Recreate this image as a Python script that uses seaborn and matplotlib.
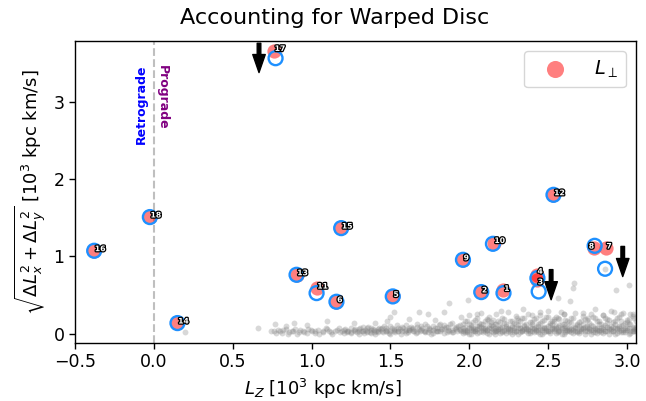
import matplotlib
matplotlib.use("Agg")
import matplotlib.pyplot as plt
import matplotlib.patheffects as pe
import seaborn as sns
import pandas as pd

# Stars: id, Lz, perpendicular angular momentum (pink) and raw in-plane value (blue ring)
star_id = [1, 2, 3, 4, 5, 6, 7, 8, 9, 10, 11, 12, 13, 14, 15, 16, 17, 18]
lz_perp = [2.217, 2.076, 2.43, 2.428, 1.515, 1.158, 2.865, 2.793, 1.96, 2.155,
           1.032, 2.534, 0.905, 0.15, 1.188, -0.378, 0.762, -0.025]
l_perp = [0.56, 0.54, 0.69, 0.76, 0.483, 0.414, 1.108, 1.108, 0.957, 1.18,
          0.59, 1.798, 0.763, 0.138, 1.367, 1.074, 3.665, 1.51]
lz_xy = [2.217, 2.076, 2.44, 2.432, 1.515, 1.158, 2.861, 2.795, 1.96, 2.15,
         1.032, 2.534, 0.905, 0.15, 1.188, -0.378, 0.772, -0.025]
l_xy = [0.526, 0.539, 0.547, 0.72, 0.483, 0.414, 0.841, 1.138, 0.957, 1.164,
        0.526, 1.798, 0.763, 0.138, 1.367, 1.074, 3.566, 1.51]
# label nudges (points) for crowded stars
label_dx = [0.5, 0.5, 0.5, 0.5, 0.5, 0.5, 0.5, -4.0, 0.5, 0.5,
            0.5, 0.5, 0.5, 0.5, 0.5, 0.5, 0.5, 0.5]
label_dy = [1.5, 1.5, -1.0, 2.8, 1.5, 1.5, 1.5, 1.5, 1.5, 1.5,
            1.5, 1.5, 1.5, 1.5, 1.5, 1.5, 1.5, 1.5]

# Downward arrows: x, tail y, tip y
arrow_x = [0.667, 2.519, 2.973]
arrow_top = [3.76, 0.83, 1.13]
arrow_tip = [3.38, 0.44, 0.74]

# Disc field population
field_sparse_x = [0.20, 0.66, 0.76, 0.79, 0.81, 0.84, 0.86, 0.88, 0.91, 0.93, 0.95, 0.98,
                  1.00, 1.02, 1.04, 1.07, 1.09, 1.11, 1.13, 1.16, 1.18, 1.21, 1.23, 1.25,
                  1.27, 1.29, 0.77, 0.89, 1.10, 1.27, 0.84, 0.97,
                  0.745, 0.772, 0.797, 0.822, 0.848, 0.873, 0.897, 0.922, 0.948, 0.972,
                  0.998, 1.022, 1.047, 1.073, 1.097, 1.122, 1.148, 1.172, 1.196]
field_sparse_y = [0.02, 0.07, 0.03, 0.05, 0.01, 0.06, 0.02, 0.04, 0.00, 0.05, 0.02, 0.06,
                  0.03, 0.01, 0.05, 0.02, 0.07, 0.03, 0.00, 0.05, 0.02, 0.06, 0.03, 0.01,
                  0.05, 0.02, 0.12, 0.14, 0.16, 0.14, 0.10, 0.11,
                  0.04, 0.01, 0.03, 0.05, 0.00, 0.03, 0.06, 0.02, 0.04, 0.01,
                  0.05, 0.03, 0.00, 0.04, 0.06, 0.02, 0.03, 0.07, 0.04]
field_mid_x = [1.30, 1.31, 1.33, 1.34, 1.36, 1.37, 1.39, 1.40, 1.42, 1.43, 1.45, 1.46,
               1.48, 1.49, 1.51, 1.52, 1.54, 1.55, 1.57, 1.58, 1.60, 1.61, 1.63, 1.64,
               1.66, 1.67, 1.69, 1.70, 1.72, 1.73, 1.75, 1.76, 1.78, 1.79, 1.81, 1.82,
               1.84, 1.85, 1.87, 1.88, 1.90, 1.91, 1.93, 1.94,
               1.32, 1.35, 1.38, 1.41, 1.44, 1.47, 1.50, 1.53, 1.56, 1.59, 1.62, 1.65,
               1.68, 1.71, 1.74, 1.77, 1.80, 1.83, 1.86, 1.89, 1.92, 1.95]
field_mid_y = [0.03, 0.07, 0.01, 0.05, 0.09, 0.02, 0.06, 0.00, 0.04, 0.08, 0.02, 0.10,
               0.05, 0.01, 0.07, 0.03, 0.11, 0.04, 0.00, 0.08, 0.05, 0.02, 0.09, 0.06,
               0.01, 0.12, 0.04, 0.07, 0.02, 0.10, 0.05, 0.00, 0.08, 0.03, 0.11, 0.06,
               0.01, 0.09, 0.04, 0.13, 0.02, 0.07, 0.10, 0.05,
               0.04, 0.02, 0.05, 0.03, 0.06, 0.03, 0.04, 0.02, 0.06, 0.03, 0.05, 0.03,
               0.06, 0.04, 0.02, 0.05, 0.03, 0.06, 0.02, 0.05, 0.04, 0.03]
field_mid2_x = [1.205, 1.228, 1.253, 1.276, 1.302, 1.327, 1.351, 1.374, 1.398, 1.424,
                1.449, 1.473, 1.497, 1.522, 1.548, 1.571, 1.596, 1.621, 1.646, 1.669,
                1.694, 1.719, 1.744, 1.768, 1.793, 1.817, 1.842, 1.866, 1.891, 1.916,
                1.941]
field_mid2_y1 = [0.01, 0.04, 0.02, 0.06, 0.00, 0.03, 0.07, 0.01, 0.05, 0.02, 0.08, 0.04,
                 0.00, 0.06, 0.03, 0.09, 0.01, 0.05, 0.07, 0.02, 0.10, 0.04, 0.06, 0.01,
                 0.08, 0.03, 0.11, 0.05, 0.02, 0.09, 0.06]
field_mid2_y2 = [0.05, 0.02, 0.07, 0.03, 0.06, 0.09, 0.04, 0.08, 0.02, 0.06, 0.03, 0.07,
                 0.10, 0.05, 0.08, 0.04, 0.11, 0.07, 0.03, 0.09, 0.05, 0.12, 0.08, 0.10,
                 0.04, 0.13, 0.07, 0.09, 0.14, 0.06, 0.11]
field_dense_x = [1.96, 1.985, 2.01, 2.035, 2.06, 2.085, 2.11, 2.135, 2.16, 2.185, 2.21,
                 2.235, 2.26, 2.285, 2.31, 2.335, 2.36, 2.385, 2.41, 2.435, 2.46, 2.485,
                 2.51, 2.535, 2.56, 2.585, 2.61, 2.635, 2.66, 2.685, 2.71, 2.735, 2.76,
                 2.785, 2.81, 2.835, 2.86, 2.885, 2.91, 2.935, 2.96, 2.985, 3.01, 3.035,
                 3.06, 3.085]
field_dense_y1 = [0.01, 0.04, 0.00, 0.03, 0.02, 0.05, 0.01, 0.03, 0.00, 0.04, 0.02, 0.01,
                  0.05, 0.02, 0.00, 0.03, 0.04, 0.01, 0.02, 0.05, 0.00, 0.03, 0.01, 0.04,
                  0.02, 0.00, 0.05, 0.03, 0.01, 0.02, 0.04, 0.00, 0.03, 0.05, 0.01, 0.02,
                  0.04, 0.00, 0.03, 0.01, 0.05, 0.02, 0.00, 0.04, 0.03, 0.01]
field_dense_y2 = [0.07, 0.05, 0.09, 0.06, 0.10, 0.08, 0.05, 0.11, 0.07, 0.06, 0.09, 0.10,
                  0.06, 0.08, 0.11, 0.05, 0.07, 0.09, 0.06, 0.10, 0.08, 0.05, 0.11, 0.07,
                  0.09, 0.06, 0.10, 0.08, 0.05, 0.11, 0.07, 0.09, 0.06, 0.10, 0.08, 0.05,
                  0.11, 0.07, 0.09, 0.06, 0.10, 0.08, 0.12, 0.07, 0.09, 0.11]
field_dense_y3 = [0.13, 0.16, 0.11, 0.18, 0.14, 0.12, 0.19, 0.15, 0.13, 0.17, 0.20, 0.12,
                  0.16, 0.14, 0.18, 0.21, 0.13, 0.15, 0.19, 0.12, 0.17, 0.22, 0.14, 0.16,
                  0.20, 0.13, 0.18, 0.15, 0.21, 0.12, 0.17, 0.19, 0.14, 0.22, 0.16, 0.13,
                  0.20, 0.18, 0.15, 0.21, 0.17, 0.14, 0.19, 0.23, 0.16, 0.20]
field_dense_y4 = [0.04, 0.02, 0.06, 0.03, 0.07, 0.02, 0.05, 0.08, 0.03, 0.06, 0.04, 0.07,
                  0.02, 0.05, 0.08, 0.03, 0.06, 0.04, 0.07, 0.02, 0.05, 0.08, 0.03, 0.06,
                  0.04, 0.07, 0.02, 0.05, 0.08, 0.03, 0.06, 0.04, 0.07, 0.02, 0.05, 0.08,
                  0.03, 0.06, 0.04, 0.07, 0.02, 0.05, 0.08, 0.03, 0.06, 0.04]
field_dense2_x = [1.972, 1.998, 2.022, 2.047, 2.073, 2.097, 2.122, 2.148, 2.172, 2.197,
                  2.223, 2.247, 2.272, 2.298, 2.322, 2.347, 2.373, 2.397, 2.422, 2.448,
                  2.472, 2.497, 2.523, 2.547, 2.572, 2.598, 2.622, 2.647, 2.673, 2.697,
                  2.722, 2.748, 2.772, 2.797, 2.823, 2.847, 2.872, 2.898, 2.922, 2.947,
                  2.973, 2.997, 3.022, 3.047, 3.072, 3.097]
field_dense2_y1 = [0.02, 0.00, 0.05, 0.01, 0.03, 0.06, 0.00, 0.02, 0.04, 0.01, 0.05, 0.03,
                   0.00, 0.04, 0.02, 0.06, 0.01, 0.03, 0.05, 0.00, 0.02, 0.04, 0.06, 0.01,
                   0.03, 0.00, 0.05, 0.02, 0.04, 0.01, 0.06, 0.03, 0.00, 0.02, 0.05, 0.01,
                   0.04, 0.06, 0.00, 0.03, 0.02, 0.05, 0.01, 0.04, 0.00, 0.06]
field_dense2_y2 = [0.09, 0.12, 0.07, 0.10, 0.13, 0.08, 0.11, 0.06, 0.12, 0.09, 0.14, 0.07,
                   0.10, 0.13, 0.08, 0.11, 0.06, 0.12, 0.09, 0.14, 0.07, 0.10, 0.13, 0.08,
                   0.11, 0.12, 0.09, 0.14, 0.07, 0.10, 0.13, 0.08, 0.11, 0.06, 0.12, 0.09,
                   0.14, 0.10, 0.13, 0.08, 0.11, 0.15, 0.12, 0.09, 0.14, 0.13]
field_dense2_y3 = [0.05, 0.08, 0.03, 0.06, 0.09, 0.04, 0.07, 0.10, 0.05, 0.08, 0.03, 0.06,
                   0.09, 0.04, 0.07, 0.10, 0.05, 0.08, 0.03, 0.06, 0.09, 0.04, 0.07, 0.10,
                   0.05, 0.08, 0.03, 0.06, 0.09, 0.04, 0.07, 0.10, 0.05, 0.08, 0.03, 0.06,
                   0.09, 0.04, 0.07, 0.10, 0.05, 0.08, 0.03, 0.06, 0.09, 0.04]
field_dense2_y4 = [0.17, 0.24, 0.15, 0.20, 0.27, 0.16, 0.22, 0.18, 0.25, 0.15, 0.19, 0.28,
                   0.17, 0.23, 0.16, 0.21, 0.26, 0.15, 0.20, 0.24, 0.18, 0.29, 0.16, 0.22,
                   0.19, 0.25, 0.17, 0.21, 0.27, 0.15, 0.23, 0.18, 0.26, 0.20, 0.16, 0.24,
                   0.19, 0.29, 0.17, 0.22, 0.27, 0.18, 0.25, 0.21, 0.30, 0.24]
field_high_x = [1.40, 1.48, 1.50, 1.52, 1.62, 1.68, 1.74, 1.78, 1.84, 1.87, 1.95, 1.99,
                2.05, 2.12, 2.20, 2.30, 2.34, 2.40, 2.45, 2.50, 2.54, 2.565, 2.58, 2.60,
                2.64, 2.66, 2.665, 2.72, 2.75, 2.80, 2.85, 2.86, 2.92, 2.93, 2.96, 3.015,
                3.04]
field_high_y = [0.14, 0.16, 0.22, 0.28, 0.19, 0.28, 0.25, 0.18, 0.28, 0.40, 0.22, 0.44,
                0.25, 0.18, 0.30, 0.21, 0.32, 0.24, 0.28, 0.22, 0.19, 0.46, 0.28, 0.25,
                0.43, 0.59, 0.66, 0.27, 0.20, 0.32, 0.24, 0.84, 0.28, 0.57, 0.26, 0.63,
                0.26]

field_x = (field_sparse_x + field_mid_x + field_mid2_x * 2 + field_dense_x * 4
           + field_dense2_x * 4 + field_high_x)
field_y = (field_sparse_y + field_mid_y + field_mid2_y1 + field_mid2_y2
           + field_dense_y1 + field_dense_y2 + field_dense_y3 + field_dense_y4
           + field_dense2_y1 + field_dense2_y2 + field_dense2_y3 + field_dense2_y4
           + field_high_y)
field = pd.DataFrame({"lz": field_x, "l": field_y})
stars_perp = pd.DataFrame({"lz": lz_perp, "l": l_perp})
stars_xy = pd.DataFrame({"lz": lz_xy, "l": l_xy})

sns.set_style("ticks")
plt.rcParams["font.family"] = ["DejaVu Sans"]
plt.rcParams["mathtext.fontset"] = "dejavusans"
for key in ("text.color", "axes.labelcolor", "xtick.color", "ytick.color"):
    plt.rcParams[key] = "black"

fig, ax = plt.subplots(figsize=(6.46, 4.01), dpi=100)
fig.subplots_adjust(left=0.116, right=0.9845, top=0.898, bottom=0.1446)

sns.scatterplot(data=field, x="lz", y="l", ax=ax, color="gray", alpha=0.3,
                s=18, linewidth=0, legend=False, zorder=1)
sns.scatterplot(data=stars_perp, x="lz", y="l", ax=ax, color="red", alpha=0.5,
                s=105, linewidth=0, label=r"$L_\perp$", zorder=3)
sns.scatterplot(data=stars_xy, x="lz", y="l", ax=ax, facecolor="none",
                edgecolor="#1e90ff", s=100, linewidth=1.7, legend=False, zorder=4)

halo = [pe.withStroke(linewidth=1.8, foreground="black")]
for sid, x, y, dx, dy in zip(star_id, lz_perp, l_perp, label_dx, label_dy):
    ax.annotate(str(sid), (x, y), xytext=(dx, dy), textcoords="offset points",
                ha="left", va="center", fontsize=5.5, fontweight="bold",
                color="white", path_effects=halo, zorder=6)

for x, y0, y1 in zip(arrow_x, arrow_top, arrow_tip):
    ax.annotate("", xy=(x, y1), xytext=(x, y0),
                arrowprops=dict(facecolor="black", edgecolor="black", width=2.6,
                                headwidth=9, headlength=13, shrink=0),
                zorder=5)

ax.axvline(0, color="#bfbfbf", linestyle="--", linewidth=1.5, zorder=0)
ax.text(-0.035, 3.48, "Retrograde", rotation=90, ha="right", va="top",
        color="blue", fontsize=9, fontweight="bold")
ax.text(0.012, 3.48, "Prograde", rotation=270, ha="left", va="top",
        color="purple", fontsize=9, fontweight="bold")

ax.set_xlim(-0.5, 3.057)
ax.set_ylim(-0.12, 3.79)
ax.set_xticks([-0.5, 0.0, 0.5, 1.0, 1.5, 2.0, 2.5, 3.0])
ax.set_yticks([0, 1, 2, 3])
ax.tick_params(labelsize=12.5, length=4, width=1, color="black", labelcolor="black")
for sp in ax.spines.values():
    sp.set_color("black")
    sp.set_linewidth(1.0)

ax.set_xlabel(r"$L_Z$ [10$^3$ kpc km/s]", fontsize=13, color="black", x=0.442)
ax.set_ylabel(r"$\sqrt{\Delta L_x^2 + \Delta L_y^2}$ [10$^3$ kpc km/s]", fontsize=13,
              color="black")
fig.text(0.518, 0.955, "Accounting for Warped Disc", ha="center", va="center",
         fontsize=16, color="black")

leg = ax.legend(loc="upper right", fontsize=14, markerscale=1.2, frameon=True,
                handlelength=2.4)
leg.get_frame().set_edgecolor("#cccccc")
for t in leg.get_texts():
    t.set_color("black")

fig.savefig("out.png", dpi=100)
